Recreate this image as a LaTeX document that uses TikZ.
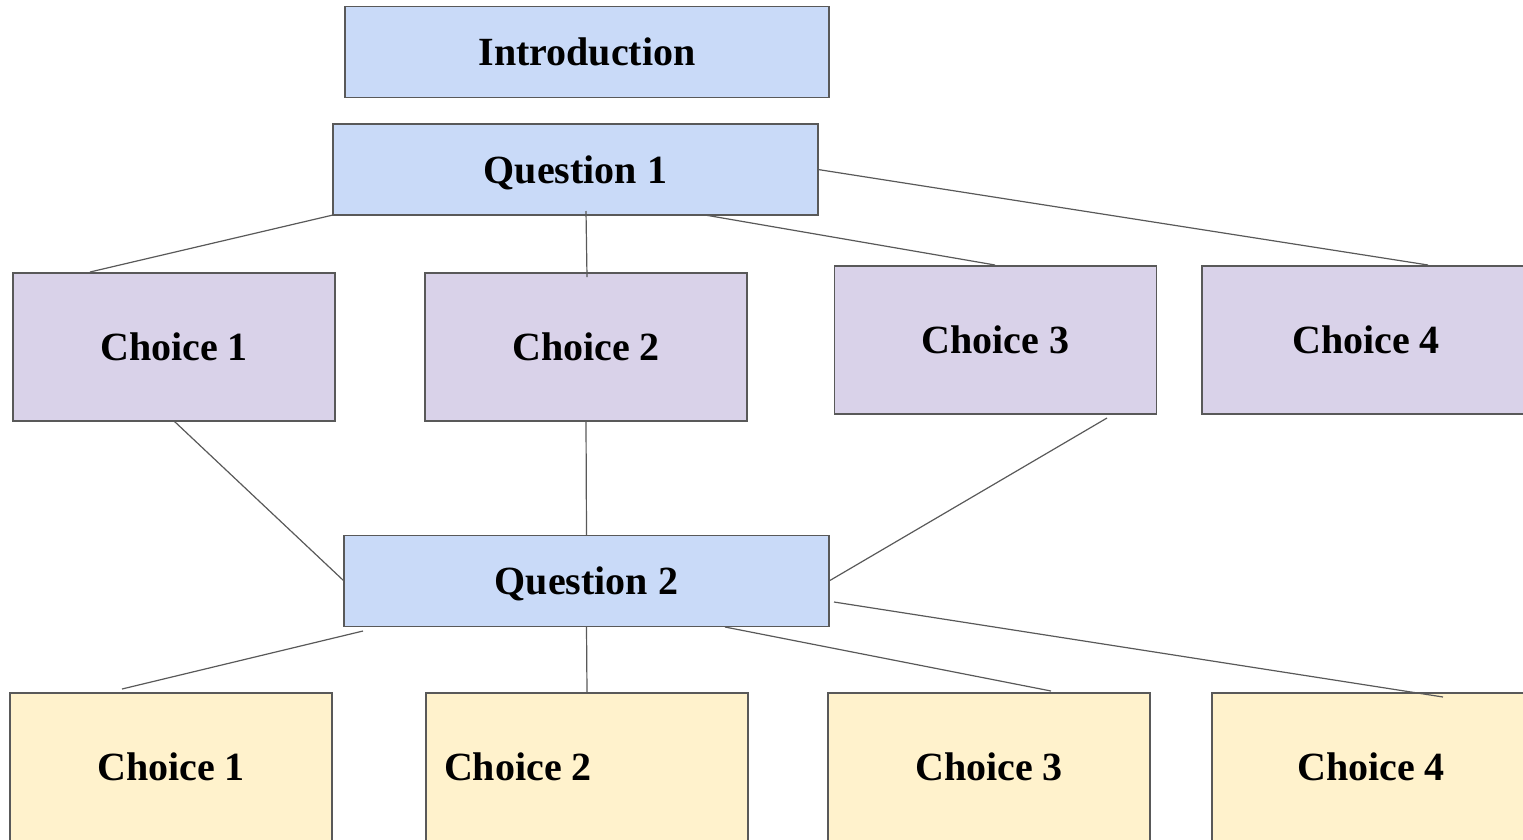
\documentclass[tikz,border=0pt]{standalone}
\usepackage{fontspec}
\setmainfont{Liberation Serif}
\definecolor{qblue}{HTML}{C9DAF8}
\definecolor{cpurple}{HTML}{D9D2E9}
\definecolor{cyellow}{HTML}{FFF2CC}
\definecolor{edge}{HTML}{595959}
\begin{document}
\begin{tikzpicture}[x=1pt,y=-1pt,
  box/.style={draw=edge, line width=1.2pt, inner sep=0pt, outer sep=0pt,
    font=\fontsize{40}{44}\selectfont\bfseries, rectangle,
    text height=35pt, text depth=8pt},
  qbox/.style={box, fill=qblue, minimum width=485pt, minimum height=91pt},
  pbox/.style={box, fill=cpurple, minimum width=322pt, minimum height=148pt},
  ybox/.style={box, fill=cyellow, minimum width=322pt, minimum height=148pt},
  link/.style={draw=edge, line width=1.2pt}]
\useasboundingbox (0,0) rectangle (1523,839);
\node[qbox, minimum width=484pt] (intro) at (587,52) {Introduction};
\node[qbox] (q1) at (575.5,169.5) {Question 1};
\node[pbox] (a1) at (174,347) {Choice 1};
\node[pbox] (a2) at (586,347) {Choice 2};
\node[pbox] (a3) at (995.5,340) {Choice 3};
\node[pbox, minimum width=328pt] (a4) at (1366,340) {Choice 4};
\node[qbox] (q2) at (586.5,581) {Question 2};
\node[ybox] (b1) at (171,767) {Choice 1};
\node[ybox, text width=286pt, align=flush left] (b2) at (587,767) {Choice 2};
\node[ybox] (b3) at (989,767) {Choice 3};
\node[ybox, minimum width=318pt] (b4) at (1371,767) {Choice 4};
% connector endpoints
\coordinate (q1b) at (586,211);
\coordinate (q1bm) at (705,215);
\coordinate (a1t) at (90,272);
\coordinate (a2t) at (587,277);
\coordinate (a3t) at (995,265);
\coordinate (a4t) at (1428,265);
\coordinate (a3b) at (1107,418);
\coordinate (q2bl) at (363,631);
\coordinate (q2bm) at (725,627);
\coordinate (q2r) at (834,602);
\coordinate (b1t) at (122,689);
\coordinate (b3t) at (1051,691);
\coordinate (b4t) at (1443,697);
\draw[link] (q1.south west) -- (a1t);
\draw[link] (q1b) -- (a2t);
\draw[link] (q1bm) -- (a3t);
\draw[link] (q1.east) -- (a4t);
\draw[link] (a1.south) -- (q2.west);
\draw[link] (a2.south) -- (q2.north);
\draw[link] (a3b) -- (q2.east);
\draw[link] (q2bl) -- (b1t);
\draw[link] (q2.south) -- (b2.north);
\draw[link] (q2bm) -- (b3t);
\draw[link] (q2r) -- (b4t);
\end{tikzpicture}
\end{document}
